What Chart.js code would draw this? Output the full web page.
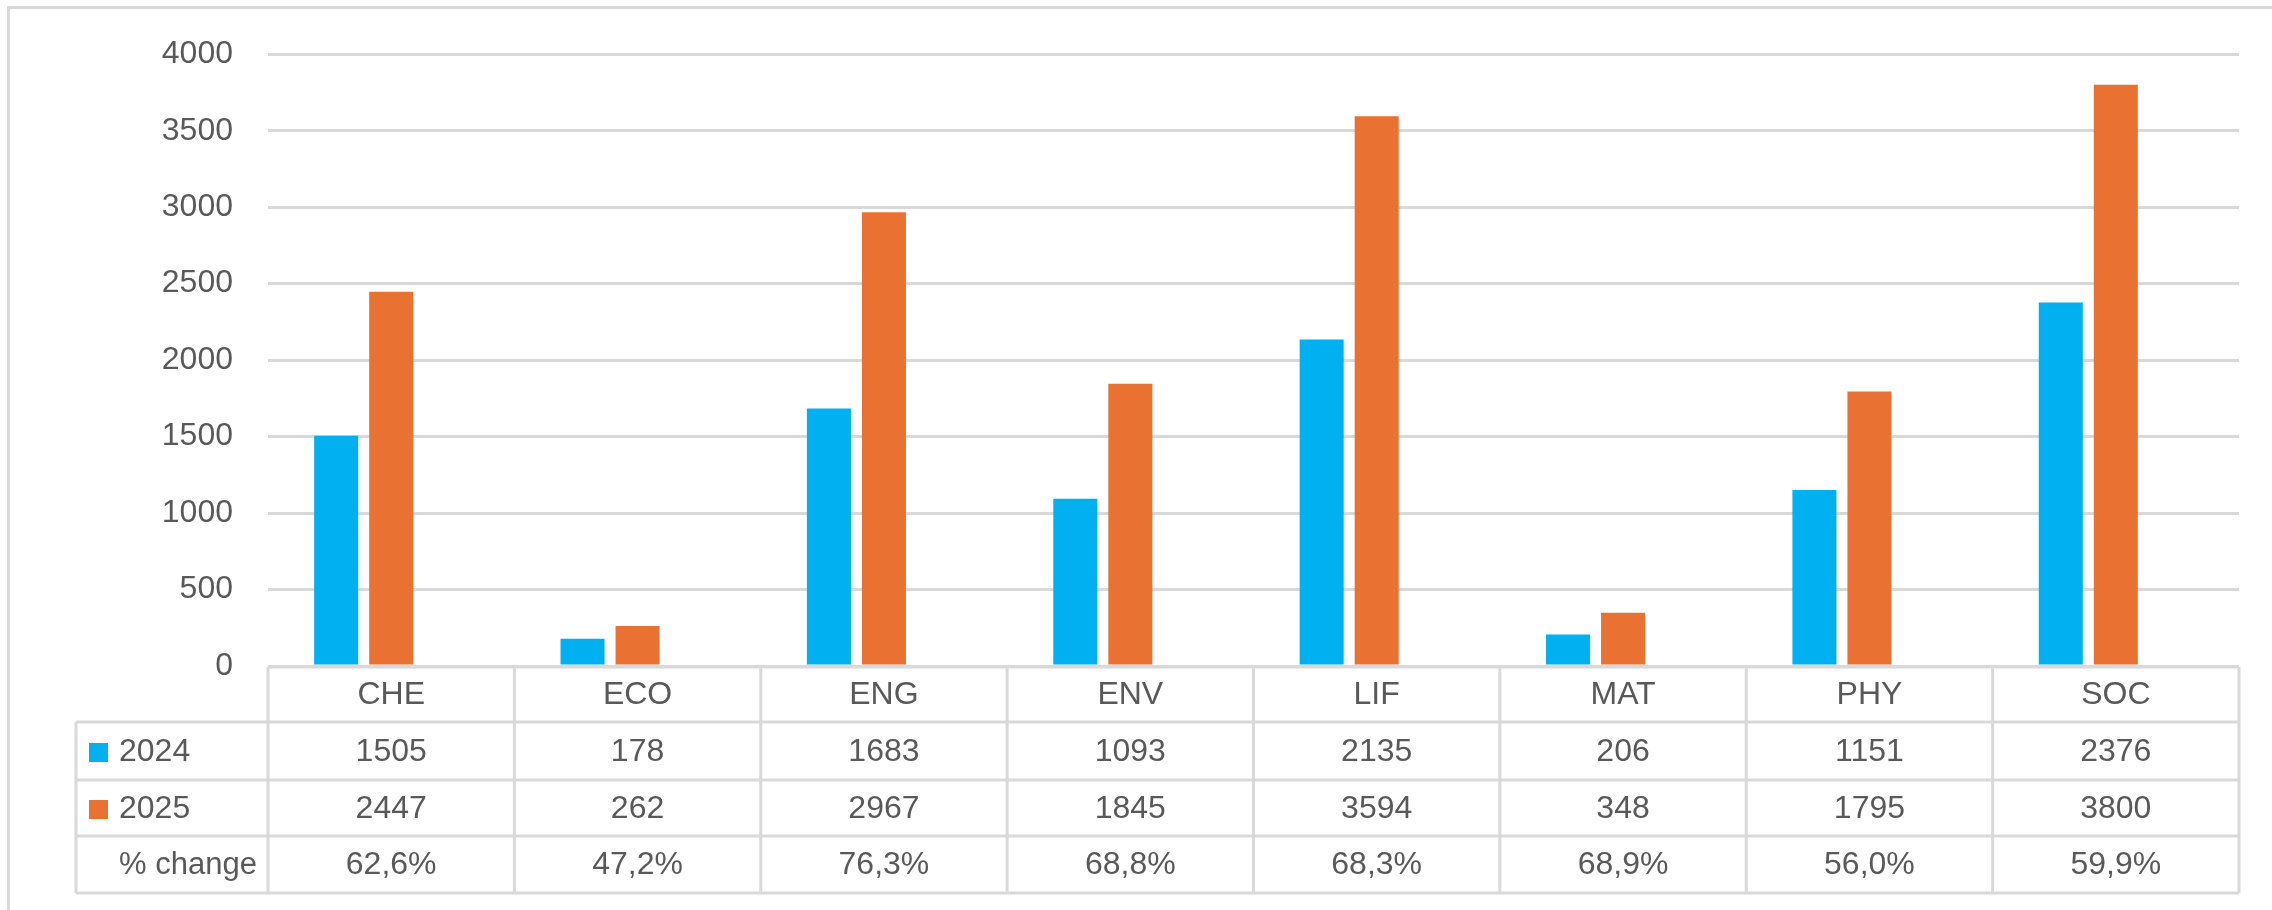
<!DOCTYPE html>
<html>
<head>
<meta charset="utf-8">
<script src="https://cdn.jsdelivr.net/npm/chart.js@4/dist/chart.umd.min.js"></script>
<style>
  html, body { margin: 0; padding: 0; background: #fff; }
  body { width: 2272px; height: 910px; position: relative; overflow: hidden; }
  #frame { position: absolute; left: 7px; top: 6px; width: 2400px; height: 1000px;
           border-left: 3px solid #d9d9d9; border-top: 3px solid #d9d9d9; }
  #chart { position: absolute; left: 0; top: 0; }
</style>
</head>
<body>
<div id="frame"></div>
<canvas id="chart" width="2272" height="910"></canvas>
<script>
"use strict";
const categories = ["CHE", "ECO", "ENG", "ENV", "LIF", "MAT", "PHY", "SOC"];
const values2024 = [1505, 178, 1683, 1093, 2135, 206, 1151, 2376];
const values2025 = [2447, 262, 2967, 1845, 3594, 348, 1795, 3800];
const pctChange = [0.626, 0.472, 0.763, 0.688, 0.683, 0.689, 0.560, 0.599];
const seriesNames = ["2024", "2025", "% change"];
const seriesColors = ["#00b0f0", "#e97132", "rgba(0,0,0,0)"];

const textColor = "#595959";
const lineColor = "#d9d9d9";
const fontFamily = "'Liberation Sans', Arial, sans-serif";

function fmtPct(v) {
    return (v * 100).toFixed(1).replace(".", ",") + "%";
}

// draws the data table (category row + series rows) under the plot
const dataTablePlugin = {
    id: "dataTable",
    afterDraw(chart) {
        const ctx = chart.ctx;
        const x = chart.scales.x;
        const area = chart.chartArea;
        const colW = x.width / categories.length;
        const top = area.bottom + 1;
        const rowEdges = [top, top + 55, top + 113, top + 169, top + 226];
        const legendLeft = 76;
        ctx.save();
        ctx.strokeStyle = lineColor;
        ctx.lineWidth = 3;
        ctx.beginPath();
        // horizontal lines
        ctx.moveTo(area.left, rowEdges[0]); ctx.lineTo(area.right, rowEdges[0]);
        for (let r = 1; r < rowEdges.length; r++) {
            ctx.moveTo(legendLeft, rowEdges[r]); ctx.lineTo(area.right, rowEdges[r]);
        }
        // vertical lines
        for (let i = 0; i <= categories.length; i++) {
            const px = x.left + i * colW;
            ctx.moveTo(px, rowEdges[0]); ctx.lineTo(px, rowEdges[4]);
        }
        ctx.moveTo(legendLeft, rowEdges[1]); ctx.lineTo(legendLeft, rowEdges[4]);
        ctx.stroke();

        ctx.fillStyle = textColor;
        ctx.font = "32px " + fontFamily;
        ctx.textBaseline = "middle";
        ctx.textAlign = "center";
        const rows = [
            categories,
            values2024.map(String),
            values2025.map(String),
            pctChange.map(fmtPct)
        ];
        rows.forEach((row, r) => {
            const cy = (rowEdges[r] + rowEdges[r + 1]) / 2 + 1;
            row.forEach((t, i) => {
                ctx.fillText(t, x.getPixelForValue(i), cy);
            });
        });
        // series names with legend keys
        ctx.textAlign = "left";
        for (let s = 0; s < 3; s++) {
            const cy = (rowEdges[s + 1] + rowEdges[s + 2]) / 2 + 1;
            if (s < 2) {
                ctx.fillStyle = seriesColors[s];
                ctx.fillRect(89, cy - 9, 19, 19);
            }
            ctx.fillStyle = textColor;
            ctx.font = (s === 2 ? "31px " : "32px ") + fontFamily;
            ctx.fillText(seriesNames[s], 119, cy);
        }
        ctx.restore();
    }
};

new Chart(document.getElementById("chart"), {
    type: "bar",
    data: {
        labels: categories,
        datasets: [
            { label: seriesNames[0], data: values2024, backgroundColor: seriesColors[0] },
            { label: seriesNames[1], data: values2025, backgroundColor: seriesColors[1] },
            { label: seriesNames[2], data: pctChange, backgroundColor: seriesColors[2] }
        ]
    },
    options: {
        responsive: false,
        devicePixelRatio: 1,
        animation: false,
        layout: { padding: { left: 0, right: 33, top: 52, bottom: 244 } },
        datasets: { bar: { categoryPercentage: 0.67, barPercentage: 0.8 } },
        plugins: { legend: { display: false }, tooltip: { enabled: false } },
        scales: {
            x: { display: false },
            y: {
                min: 0,
                max: 4000,
                ticks: { stepSize: 500, padding: 35, color: textColor,
                         font: { size: 32, family: fontFamily },
                         callback: v => String(v) },
                grid: { color: lineColor, lineWidth: 3, drawTicks: false },
                border: { display: false },
                afterFit(scale) { scale.width = 268; }
            }
        }
    },
    plugins: [dataTablePlugin]
});
</script>
</body>
</html>
